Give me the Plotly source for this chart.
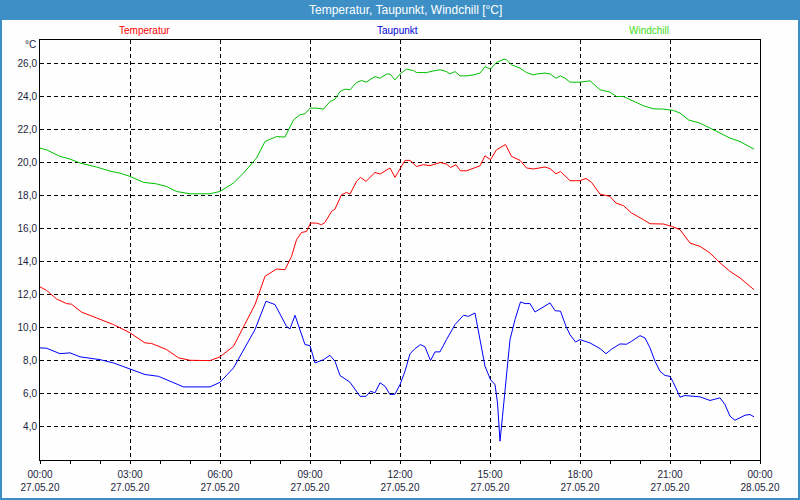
import pandas as pd
import plotly.graph_objects as go

# time offsets in minutes from 27.05.20 00:00
temp_min = [0, 13, 33, 53, 63, 83, 113, 147, 180, 210, 223, 253, 277, 300, 340, 360, 387, 407, 430, 450,
            473, 490, 503, 513, 523, 533, 541, 553, 563, 570, 583, 590, 603, 613, 620, 633, 641, 652, 670, 680,
            700, 710, 730, 740, 753, 767, 780, 800, 813, 821, 832, 841, 853, 880, 890, 901, 913, 931, 943, 960,
            973, 987, 1010, 1020, 1032, 1041, 1060, 1080, 1092, 1103, 1120, 1140, 1152, 1167, 1183, 1207, 1220,
            1247, 1263, 1280, 1300, 1320, 1340, 1360, 1380, 1400, 1428]
temp_val = [12.47, 12.26, 11.74, 11.46, 11.42, 10.95, 10.59, 10.19, 9.69, 9.08, 9.05, 8.68, 8.18, 8.03, 8.01, 8.24,
            8.88, 10.08, 11.4, 13.11, 13.55, 13.51, 14.31, 15.32, 15.76, 15.82, 16.33, 16.33, 16.23, 16.37, 17.03,
            17.18, 18.04, 18.18, 18.08, 18.85, 19.09, 18.85, 19.39, 19.29, 19.66, 19.09, 20.12, 20.12, 19.75, 19.86,
            19.8, 19.99, 19.9, 19.69, 19.86, 19.49, 19.49, 19.79, 20.40, 20.16, 20.76, 21.08, 20.36, 20.12, 19.66,
            19.6, 19.72, 19.62, 19.31, 19.45, 18.89, 18.89, 19.03, 18.79, 18.08, 17.94, 17.54, 17.38, 16.94, 16.53,
            16.29, 16.27, 16.13, 15.93, 15.12, 14.92, 14.52, 13.92, 13.41, 13.01, 12.3]

dew_min = [0, 13, 40, 60, 80, 120, 147, 180, 210, 237, 253, 287, 340, 360, 387, 407, 430, 452, 470, 493,
           500, 510, 520, 530, 540, 550, 567, 580, 590, 600, 620, 640, 652, 661, 670, 680, 690, 700, 710, 720,
           730, 740, 750, 761, 770, 781, 790, 800, 813, 830, 847, 857, 870, 880, 890, 901, 910, 915, 920, 925,
           933, 940, 950, 961, 970, 980, 990, 1000, 1020, 1030, 1041, 1052, 1060, 1071, 1080, 1100, 1120, 1132,
           1143, 1160, 1173, 1183, 1200, 1210, 1220, 1230, 1240, 1250, 1260, 1267, 1280, 1290, 1320, 1340, 1360,
           1370, 1380, 1390, 1410, 1420, 1428]
dew_val = [8.78, 8.76, 8.43, 8.48, 8.24, 8.07, 7.87, 7.51, 7.17, 7.06, 6.86, 6.42, 6.42, 6.70, 7.57, 8.68, 9.89,
           11.6, 11.4, 10.08, 9.93, 10.75, 9.89, 8.98, 8.92, 7.87, 8.07, 8.33, 7.97, 7.11, 6.70, 5.85, 5.85, 6.16,
           6.06, 6.67, 6.46, 5.96, 5.98, 6.56, 7.37, 8.42, 8.74, 8.98, 8.84, 8.01, 8.54, 8.54, 9.28, 10.19, 10.75,
           10.69, 10.89, 9.28, 7.67, 6.86, 6.56, 5.45, 3.14, 4.65, 7.27, 9.28, 10.49, 11.56, 11.46, 11.46, 10.95,
           11.14, 11.5, 11.03, 11.0, 10.08, 9.58, 9.14, 9.28, 9.08, 8.74, 8.43, 8.7, 9.02, 9.0, 9.18, 9.52, 9.38,
           8.78, 7.97, 7.37, 7.11, 7.06, 6.67, 5.80, 5.9, 5.82, 5.6, 5.76, 5.35, 4.65, 4.40, 4.71, 4.75, 4.61]

wc_min = [0, 13, 40, 60, 80, 113, 140, 160, 180, 207, 233, 253, 273, 300, 340, 360, 387, 407, 433, 450,
          473, 490, 507, 520, 530, 540, 553, 567, 580, 590, 600, 610, 620, 633, 643, 652, 670, 680, 693, 700,
          710, 720, 733, 747, 753, 773, 787, 800, 813, 820, 830, 840, 853, 867, 880, 890, 901, 913, 928, 933,
          943, 960, 973, 987, 993, 1010, 1020, 1032, 1041, 1050, 1060, 1080, 1100, 1120, 1140, 1153, 1167, 1187,
          1207, 1227, 1247, 1267, 1280, 1297, 1320, 1347, 1380, 1400, 1428]
wc_val = [20.86, 20.76, 20.36, 20.2, 19.96, 19.72, 19.47, 19.35, 19.15, 18.79, 18.7, 18.54, 18.24, 18.1, 18.1,
          18.24, 18.75, 19.35, 20.26, 21.26, 21.56, 21.53, 22.57, 22.88, 22.94, 23.28, 23.28, 23.22, 23.68, 23.82,
          24.28, 24.43, 24.39, 24.83, 24.95, 24.85, 25.19, 25.09, 25.34, 25.34, 24.99, 25.34, 25.64, 25.55, 25.43,
          25.43, 25.53, 25.6, 25.49, 25.35, 25.49, 25.23, 25.23, 25.29, 25.4, 25.79, 25.64, 26.04, 26.24, 26.2,
          25.9, 25.7, 25.43, 25.29, 25.34, 25.4, 25.35, 25.09, 25.23, 25.09, 24.85, 24.85, 24.93, 24.39, 24.25,
          23.98, 23.98, 23.68, 23.42, 23.24, 23.22, 23.14, 22.98, 22.57, 22.37, 21.97, 21.47, 21.26, 20.8]

y_ticks = [4, 6, 8, 10, 12, 14, 16, 18, 20, 22, 24, 26]
y_ticktext = ["4,0", "6,0", "8,0", "10,0", "12,0", "14,0", "16,0", "18,0", "20,0", "22,0", "24,0", "26,0"]
x_tick_hours = [0, 3, 6, 9, 12, 15, 18, 21, 24]
x_ticktext = ["00:00<br>27.05.20", "03:00<br>27.05.20", "06:00<br>27.05.20", "09:00<br>27.05.20",
              "12:00<br>27.05.20", "15:00<br>27.05.20", "18:00<br>27.05.20", "21:00<br>27.05.20",
              "00:00<br>28.05.20"]

base = pd.Timestamp("2020-05-27 00:00")
def to_t(mins):
    return [base + pd.Timedelta(minutes=m) for m in mins]

BLUE_BAR = "#3d8fc6"
FONT = "Liberation Sans"
TXT = "#1e1e3c"

fig = go.Figure()
fig.add_trace(go.Scatter(x=to_t(wc_min), y=wc_val, mode="lines", line=dict(color="#00c000", width=1), name="Windchill"))
fig.add_trace(go.Scatter(x=to_t(temp_min), y=temp_val, mode="lines", line=dict(color="#ff0000", width=1), name="Temperatur"))
fig.add_trace(go.Scatter(x=to_t(dew_min), y=dew_val, mode="lines", line=dict(color="#0000ff", width=1), name="Taupunkt"))

W, H, L, R, T, B = 800, 500, 40, 40, 40, 40
pw, ph = W - L - R, H - T - B
def px(x): return (x - L) / pw
def py(y): return 1 - (y - T) / ph

def label(text, x, y, color, size=10, xanchor="center"):
    return dict(text=text, xref="paper", yref="paper", x=px(x), y=py(y), xanchor=xanchor, yanchor="middle",
                showarrow=False, font=dict(family=FONT, size=size, color=color))

fig.update_layout(
    width=W, height=H, margin=dict(l=L, r=R, t=T, b=B, autoexpand=False),
    paper_bgcolor="#fdfefd", plot_bgcolor="#fdfefd",
    showlegend=False,
    font=dict(family=FONT, size=10, color=TXT),
    xaxis=dict(
        range=[base, base + pd.Timedelta(hours=24)],
        tickvals=[base + pd.Timedelta(hours=h) for h in x_tick_hours],
        ticktext=x_ticktext, automargin=False,
        showgrid=True, gridcolor="black", gridwidth=1, griddash="4px,3px",
        showline=True, linecolor="black", linewidth=1, mirror=True,
        ticks="outside", ticklen=3, tickcolor="black", ticklabelstandoff=2,
        minor=dict(dtick=3600000, ticks="outside", ticklen=3, tickcolor="black", showgrid=False),
        zeroline=False, tickfont=dict(family=FONT, size=10, color=TXT),
    ),
    yaxis=dict(
        range=[2.0, 27.4], automargin=False,
        tickvals=y_ticks, ticktext=y_ticktext,
        showgrid=True, gridcolor="black", gridwidth=1, griddash="4px,3px",
        showline=True, linecolor="black", linewidth=1, mirror=True,
        ticks="", zeroline=False, tickfont=dict(family=FONT, size=10, color=TXT),
    ),
    shapes=[
        dict(type="rect", xref="paper", yref="paper", x0=px(0), x1=px(800), y0=py(20), y1=py(0),
             fillcolor=BLUE_BAR, line=dict(width=0), layer="above"),
        dict(type="rect", xref="paper", yref="paper", x0=px(0), x1=px(800), y0=py(500), y1=py(0),
             fillcolor="rgba(0,0,0,0)", line=dict(color=BLUE_BAR, width=4), layer="above"),
    ],
    annotations=[
        label("Temperatur, Taupunkt, Windchill [°C]", 405, 10, "white", size=12),
        label("Temperatur", 144, 30, "#ff0000"),
        label("Taupunkt", 397, 30, "#0000e0"),
        label("Windchill", 649, 30, "#44dd22"),
        label("°C", 38, 45, TXT, xanchor="right"),
    ],
)

fig.write_html("out.html", config={"displayModeBar": False},
               post_script="document.body.style.margin='0';")
